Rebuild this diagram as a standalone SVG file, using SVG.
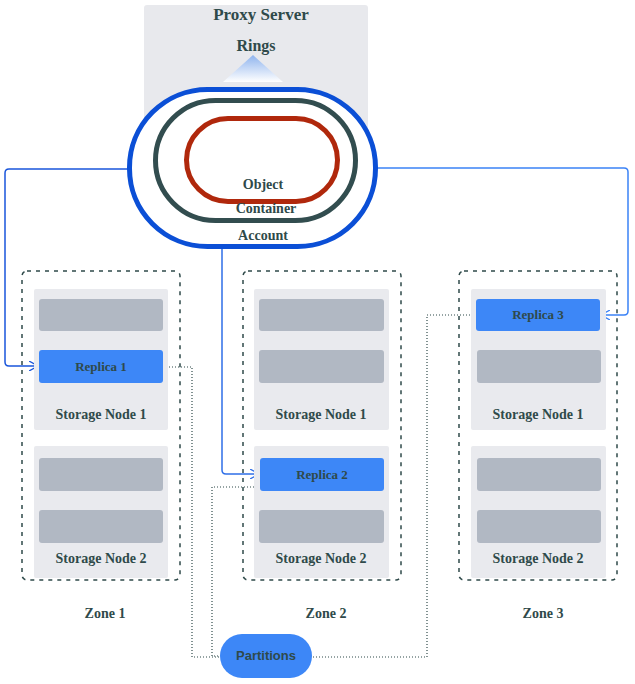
<svg xmlns="http://www.w3.org/2000/svg" width="635" height="684" viewBox="0 0 635 684">
<defs>
<style>
.t{font-family:"Liberation Serif","Times New Roman",serif;font-weight:bold;fill:#2f4a4a;text-anchor:middle}
.zone{fill:none;stroke:#2f4a4a;stroke-width:1.5;stroke-dasharray:4 5}
.node{fill:#e9eaee}
.slot{fill:#b1b8c3}
.rep{fill:#3d87f7}
.blue{fill:none;stroke-width:1.5;stroke-linejoin:round}
.dot{fill:none;stroke:#2f4a4a;stroke-width:1.2;stroke-dasharray:1 2}
</style>
<linearGradient id="tri" x1="0" y1="0" x2="0" y2="1">
<stop offset="0" stop-color="#8fb4ee"/>
<stop offset="1" stop-color="#ffffff"/>
</linearGradient>
<marker id="arr" viewBox="0 0 10 10" refX="9" refY="5" markerWidth="10" markerHeight="10" markerUnits="userSpaceOnUse" orient="auto">
<path d="M0,0 L9,5 L0,10" fill="none" stroke="#2f6fe8" stroke-width="1.3"/>
</marker>
<marker id="arrL" viewBox="0 0 10 10" refX="9" refY="5" markerWidth="10" markerHeight="10" markerUnits="userSpaceOnUse" orient="auto">
<path d="M0,0 L9,5 L0,10" fill="none" stroke="#1a56db" stroke-width="1.3"/>
</marker>
<marker id="arrR" viewBox="0 0 10 10" refX="9" refY="5" markerWidth="10" markerHeight="10" markerUnits="userSpaceOnUse" orient="auto">
<path d="M0,0 L9,5 L0,10" fill="none" stroke="#3b82f6" stroke-width="1.3"/>
</marker>
</defs>
<rect width="635" height="684" fill="#ffffff"/>

<g id="proxy-server">
<rect x="144" y="5" width="224" height="150" rx="3" fill="#e8e9ed"/>
<text class="t" x="261" y="20" font-size="17">Proxy Server</text>
<text class="t" x="256" y="51" font-size="16">Rings</text>
<polygon points="253,55 283,82 223,82" fill="url(#tri)"/>
</g>

<g id="connectors">
<path class="blue" stroke="#1a56db" d="M128,169 H9 Q5,169 5,173 V362 Q5,366 9,366 H38" marker-end="url(#arrL)"/>
<path class="blue" stroke="#3b82f6" d="M378,168 H624 Q628,168 628,172 V311 Q628,315 624,315 H601" marker-end="url(#arrR)"/>
<path class="blue" stroke="#2f6fe8" d="M222,249 V470 Q222,474 226,474 H259" marker-end="url(#arr)"/>
<path class="dot" d="M163,367 H192 V657 H220"/>
<path class="dot" d="M260,487 H212 V656 H220"/>
<path class="dot" d="M476,315 H427 V657 H312"/>
</g>

<g id="rings">
<rect x="129.5" y="89.5" width="246" height="157" rx="78" fill="#ffffff" stroke="#0b4fd6" stroke-width="5"/>
<rect x="155.5" y="100.5" width="200" height="120" rx="60" fill="none" stroke="#324d4f" stroke-width="5"/>
<rect x="186.5" y="118.5" width="151" height="83" rx="41.5" fill="none" stroke="#b0280c" stroke-width="5"/>
<text class="t" x="263" y="189" font-size="14">Object</text>
<text class="t" x="266" y="213" font-size="14">Container</text>
<text class="t" x="263" y="240" font-size="14">Account</text>
</g>

<g id="zone-1">
<rect class="zone" x="22" y="271" width="158" height="309" rx="5"/>
<text class="t" x="105" y="618" font-size="14">Zone 1</text>
</g>
<g id="zone-1-node-1">
<rect class="node" x="34" y="289" width="134" height="141" rx="2"/>
<rect class="slot" x="39" y="299" width="124" height="32" rx="3"/>
<text class="t" x="101" y="419" font-size="14">Storage Node 1</text>
</g>
<g id="replica-1">
<rect class="rep" x="39" y="350" width="124" height="33" rx="3"/>
<text class="t" x="101" y="371" font-size="13">Replica 1</text>
</g>
<g id="zone-1-node-2">
<rect class="node" x="34" y="446" width="134" height="132" rx="2"/>
<rect class="slot" x="39" y="458" width="124" height="33" rx="3"/>
<rect class="slot" x="39" y="510" width="124" height="33" rx="3"/>
<text class="t" x="101" y="563" font-size="14">Storage Node 2</text>
</g>

<g id="zone-2">
<rect class="zone" x="243" y="271" width="158" height="309" rx="5"/>
<text class="t" x="326" y="618" font-size="14">Zone 2</text>
</g>
<g id="zone-2-node-1">
<rect class="node" x="254" y="289" width="135" height="141" rx="2"/>
<rect class="slot" x="259" y="299" width="125" height="32" rx="3"/>
<rect class="slot" x="259" y="350" width="125" height="33" rx="3"/>
<text class="t" x="321" y="419" font-size="14">Storage Node 1</text>
</g>
<g id="zone-2-node-2">
<rect class="node" x="254" y="446" width="135" height="132" rx="2"/>
<rect class="slot" x="259" y="510" width="125" height="33" rx="3"/>
<text class="t" x="321" y="563" font-size="14">Storage Node 2</text>
</g>
<g id="replica-2">
<rect class="rep" x="260" y="458" width="124" height="33" rx="3"/>
<text class="t" x="322" y="479" font-size="13">Replica 2</text>
</g>

<g id="zone-3">
<rect class="zone" x="459" y="271" width="158" height="309" rx="5"/>
<text class="t" x="543" y="618" font-size="14">Zone 3</text>
</g>
<g id="zone-3-node-1">
<rect class="node" x="471" y="289" width="135" height="141" rx="2"/>
<rect class="slot" x="477" y="350" width="124" height="33" rx="3"/>
<text class="t" x="538" y="419" font-size="14">Storage Node 1</text>
</g>
<g id="replica-3">
<rect class="rep" x="476" y="299" width="124" height="32" rx="3"/>
<text class="t" x="538" y="319" font-size="13">Replica 3</text>
</g>
<g id="zone-3-node-2">
<rect class="node" x="471" y="446" width="135" height="132" rx="2"/>
<rect class="slot" x="477" y="458" width="124" height="33" rx="3"/>
<rect class="slot" x="477" y="510" width="124" height="33" rx="3"/>
<text class="t" x="538" y="563" font-size="14">Storage Node 2</text>
</g>

<g id="partitions">
<rect x="220" y="634" width="92" height="44" rx="22" fill="#3d87f7"/>
<text x="266" y="660" font-size="13" font-family="Liberation Sans, Arial, sans-serif" font-weight="bold" fill="#2f4a4a" text-anchor="middle">Partitions</text>
</g>
</svg>
